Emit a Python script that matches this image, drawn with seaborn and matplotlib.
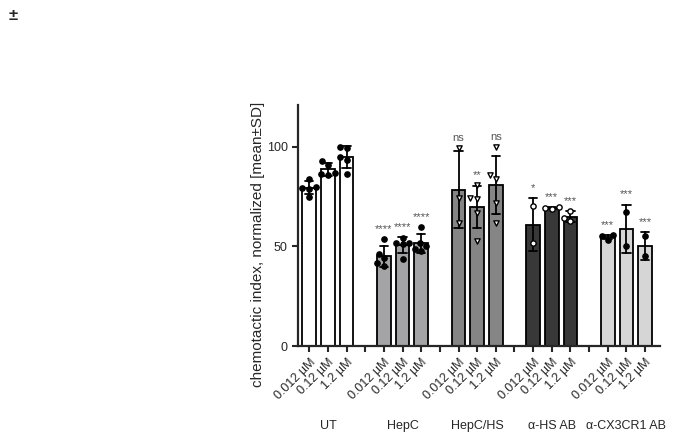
import pandas as pd
import seaborn as sns
import matplotlib.pyplot as plt
from matplotlib.transforms import blended_transform_factory

# Data (individual replicates per condition)
groups = ['UT', 'HepC', 'HepC/HS', 'α-HS AB', 'α-CX3CR1 AB']
concs = ['0.012 µM', '0.12 µM', '1.2 µM']

ut = [[84, 79.5, 80, 75, 79], [93, 91, 86.5, 87, 86], [100, 99.5, 95, 93.5, 86.5]]
hepc = [[53.6, 46.2, 44, 41.5, 40.4], [54.4, 51.6, 51, 51.8, 43.7], [60, 51.5, 50, 48.5, 47.5]]
hepc_hs = [[99.6, 74.5, 61.6], [81, 74, 74.5, 67, 53], [100, 84, 86, 72, 62]]
a_hs = [[70.4, 51.6], [68.7, 69.3, 69.6], [67.8, 64.5, 62.8]]
a_cx3cr1 = [[53.5, 55.2, 55.6], [67.5, 50.2], [55.4, 45.4]]

signif = [['', '', ''], ['****', '****', '****'], ['ns', '**', 'ns'],
          ['*', '***', '***'], ['***', '***', '***']]

bar_colors = ['#ffffff', '#a3a3a8', '#858585', '#383838', '#d6d6d6']
markers = ['o', 'o', 'v', 'o', 'o']
marker_faces = ['black', 'black', 'white', 'white', 'black']

all_values = [ut, hepc, hepc_hs, a_hs, a_cx3cr1]

# build long table, with spacer categories between groups
rows = []
order = []
tick_labels = []
for gi, (g, vals) in enumerate(zip(groups, all_values)):
    for ci, c in enumerate(concs):
        cat = f'{g} {c}'
        order.append(cat)
        tick_labels.append(c)
        for v in vals[ci]:
            rows.append({'cat': cat, 'group': g, 'value': v})
    if gi < len(groups) - 1:
        order.append(f'gap{gi}')
        tick_labels.append('')
df = pd.DataFrame(rows)

palette = {f'{g} {c}': bar_colors[gi] for gi, g in enumerate(groups) for c in concs}

sns.set_style('ticks')
plt.rcParams['font.family'] = ['Liberation Sans', 'DejaVu Sans']

fig = plt.figure(figsize=(6.84, 4.38), dpi=100)
ax = fig.add_axes([0.4357, 0.21, 0.5293, 0.55])

sns.barplot(data=df, x='cat', y='value', hue='cat', order=order, palette=palette,
            legend=False, errorbar='sd', capsize=0.45, width=0.72,
            edgecolor='black', linewidth=1.3,
            err_kws={'color': 'black', 'linewidth': 1.3}, ax=ax)

for gi, g in enumerate(groups):
    sub = df[df['group'] == g]
    sns.swarmplot(data=sub, x='cat', y='value', order=order, color=marker_faces[gi],
                  marker=markers[gi], size=3.8, edgecolor='black', linewidth=1,
                  ax=ax)

# significance labels above each bar
for gi, g in enumerate(groups):
    for ci, c in enumerate(concs):
        txt = signif[gi][ci]
        if not txt:
            continue
        vals = pd.Series(all_values[gi][ci])
        top = max(vals.max(), vals.mean() + vals.std())
        xpos = order.index(f'{g} {c}')
        ax.text(xpos, top + 2.5, txt, ha='center', va='bottom', fontsize=8, color='#555555')

ax.set_xlim(-0.6, 18.8)
ax.set_ylim(0, 121)
ax.set_yticks([0, 50, 100])
ax.set_xticks(range(len(order)))
ax.set_xticklabels(tick_labels, rotation=45, ha='right', rotation_mode='anchor', fontsize=9)
ax.tick_params(axis='y', labelsize=9, width=1.5, length=4)
ax.tick_params(axis='x', width=1.5, length=4)
ax.set_xlabel('')
ax.set_ylabel('chemotactic index, normalized [mean±SD]', fontsize=11)
ax.yaxis.set_label_coords(-0.09, 0.42)
for s in ['left', 'bottom']:
    ax.spines[s].set_linewidth(1.6)
sns.despine(ax=ax)

# group names under the tick labels
trans = blended_transform_factory(ax.transData, ax.transAxes)
for gi, g in enumerate(groups):
    ax.text(gi * 4 + 1, -0.33, g, transform=trans, ha='center', va='center', fontsize=9)

fig.text(0.012, 0.965, '±', fontsize=12, fontweight='bold', ha='left', va='center')

plt.savefig('out.png', dpi=100)
plt.close()
